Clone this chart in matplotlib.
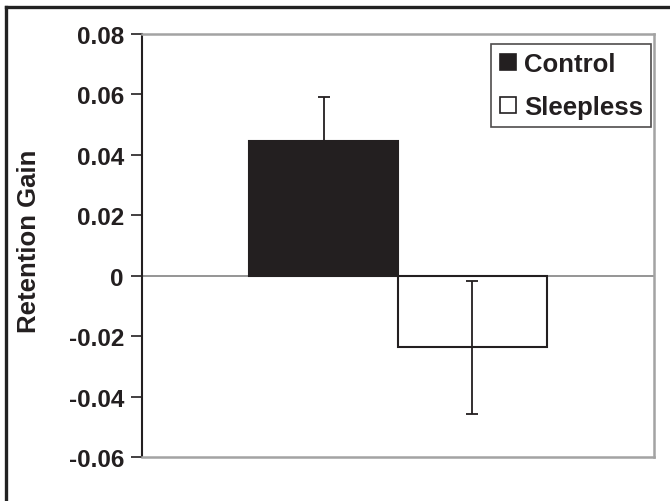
import matplotlib
matplotlib.use("Agg")
import matplotlib.pyplot as plt
from matplotlib.lines import Line2D

groups = ["Control", "Sleepless"]
means = [0.0446, -0.0237]
errors = [0.0146, 0.022]
ytick_values = [-0.06, -0.04, -0.02, 0.0, 0.02, 0.04, 0.06, 0.08]
ytick_labels = ["-0.06", "-0.04", "-0.02", "0", "0.02", "0.04", "0.06", "0.08"]

DARK = "#231f20"
GRAY = "#a3a3a3"
FONT = "Liberation Sans"

fig = plt.figure(figsize=(6.7, 5.02), dpi=100)
ax = fig.add_axes([142 / 670, 1 - 458 / 502, 512 / 670, 423 / 502])

xpos = [-0.1455, 0.1455]
width = 0.291
fills = [DARK, "white"]
for x, m, e, fc, name in zip(xpos, means, errors, fills, groups):
    ax.bar(x, m, width=width, color=fc, edgecolor=DARK, linewidth=1.5, zorder=2, label=name)
    ax.errorbar(x, m, yerr=e, fmt="none", ecolor=DARK, elinewidth=1.3,
                capsize=4.5, capthick=1.3, zorder=3)

ax.axhline(0, color="#8c8c8c", linewidth=1.3, zorder=1)
ax.set_xlim(-0.5, 0.5)
ax.set_ylim(-0.06, 0.08)
ax.set_xticks([])
ax.set_yticks(ytick_values)
ax.set_yticklabels(ytick_labels, fontfamily=FONT, fontweight="bold", fontsize=17.5, color=DARK)
ax.tick_params(axis="y", direction="out", length=8, width=1.2, color=DARK, pad=5)

for s in ["top", "right", "bottom"]:
    ax.spines[s].set_color(GRAY)
    ax.spines[s].set_linewidth(1.8)
ax.spines["left"].set_color(DARK)
ax.spines["left"].set_linewidth(1.5)

ax.set_ylabel("Retention Gain", fontfamily=FONT, fontweight="bold", fontsize=18.5, color=DARK)
ax.yaxis.set_label_coords((41 - 142) / 512, (458 - 241.5) / 423)

handles = [
    Line2D([], [], marker="s", linestyle="none", markersize=12, markerfacecolor=DARK,
           markeredgecolor=DARK, markeredgewidth=1.2),
    Line2D([], [], marker="s", linestyle="none", markersize=12, markerfacecolor="white",
           markeredgecolor=DARK, markeredgewidth=1.2),
]
leg = ax.legend(handles, groups, loc="upper left",
                bbox_to_anchor=(491 / 670, 1 - 45 / 502), bbox_transform=fig.transFigure,
                prop={"family": FONT, "weight": "bold", "size": 18.5},
                frameon=True, fancybox=False, borderpad=0.3, handlelength=0.7,
                handletextpad=0.3, labelspacing=0.75, borderaxespad=0)
leg.get_frame().set_edgecolor(DARK)
leg.get_frame().set_linewidth(1.2)
for t in leg.get_texts():
    t.set_color(DARK)

# outer frame (top and left edges visible in reference)
fig.add_artist(Line2D([6 / 670, 1.0], [1 - 8 / 502, 1 - 8 / 502], transform=fig.transFigure,
                      color="#222222", linewidth=2.4))
fig.add_artist(Line2D([6 / 670, 6 / 670], [0.0, 1 - 8 / 502], transform=fig.transFigure,
                      color="#222222", linewidth=2.4))

fig.savefig("out.png", dpi=100)
